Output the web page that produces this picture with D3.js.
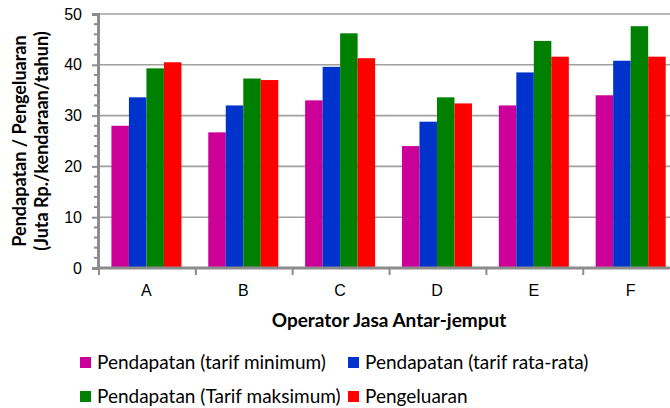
<!DOCTYPE html>
<html>
<head>
<meta charset="utf-8">
<script src="https://cdn.jsdelivr.net/npm/d3@7"></script>
<style>
    body { margin: 0; background: #fff; }
    svg { display: block; font-family: Lato, "Noto Sans", sans-serif; }
</style>
</head>
<body>
<div id="chart"></div>
<script>
// data
var operators = ["A", "B", "C", "D", "E", "F"];
var seriesNames = ["Pendapatan (tarif minimum)", "Pendapatan (tarif rata-rata)",
    "Pendapatan (Tarif maksimum)", "Pengeluaran"];
var tarifMinimum = [28.0, 26.7, 33.0, 24.0, 32.0, 34.0];
var tarifRataRata = [33.6, 32.0, 39.6, 28.8, 38.5, 40.8];
var tarifMaksimum = [39.3, 37.3, 46.2, 33.6, 44.7, 47.6];
var pengeluaran = [40.5, 37.0, 41.3, 32.4, 41.6, 41.6];
var yTicks = [0, 10, 20, 30, 40, 50];
var colors = ["#cc0099", "#0033cc", "#008000", "#ff0000"];

var svgWidth = 670;
var svgHeight = 408;

var margin = { top: 14, left: 98, bottom: 140 };
var plotBottom = svgHeight - margin.bottom;
var step = 96.85;

var svg = d3.select("#chart")
    .append("svg")
    .attr("width", svgWidth)
    .attr("height", svgHeight);

var allSeries = [tarifMinimum, tarifRataRata, tarifMaksimum, pengeluaran];

// scales
var xScale = d3.scaleBand()
    .domain(operators)
    .range([margin.left, margin.left + step * operators.length])
    .paddingInner(0.277)
    .paddingOuter(0.1385);

var xInner = d3.scaleBand()
    .domain(d3.range(seriesNames.length))
    .range([0, xScale.bandwidth()]);

var yScale = d3.scaleLinear()
    .domain([0, 50])
    .range([plotBottom, margin.top]);

// gridlines
svg.append("g")
    .selectAll("line")
    .data(yTicks.slice(1))
    .enter()
    .append("line")
    .attr("x1", margin.left)
    .attr("x2", svgWidth)
    .attr("y1", d => yScale(d))
    .attr("y2", d => yScale(d))
    .attr("stroke", "#a0a0a0")
    .attr("stroke-width", 1.6);

// bars
var rows = [];
operators.forEach(function(op, i) {
    allSeries.forEach(function(s, j) {
        rows.push({ op: op, s: j, value: s[i] });
    });
});

svg.append("g")
    .selectAll("rect")
    .data(rows)
    .enter()
    .append("rect")
    .attr("x", d => xScale(d.op) + xInner(d.s))
    .attr("y", d => yScale(d.value))
    .attr("width", xInner.bandwidth())
    .attr("height", d => plotBottom - yScale(d.value))
    .attr("fill", d => colors[d.s]);

// y axis with minor ticks
var minor = d3.range(0, 51, 2).filter(v => v % 10 !== 0);
svg.append("g")
    .selectAll("line")
    .data(minor)
    .enter()
    .append("line")
    .attr("x1", margin.left - 4)
    .attr("x2", margin.left)
    .attr("y1", d => yScale(d))
    .attr("y2", d => yScale(d))
    .attr("stroke", "#8c8c8c")
    .attr("stroke-width", 2);

var leftAxis = d3.axisLeft(yScale)
    .tickValues(yTicks)
    .tickSize(6)
    .tickPadding(10);

var yAxis = svg.append("g")
    .attr("transform", `translate(${margin.left}, 0)`)
    .call(leftAxis);

yAxis.select(".domain")
    .attr("stroke", "#8c8c8c")
    .attr("stroke-width", 3);
yAxis.selectAll(".tick line")
    .attr("stroke", "#8c8c8c")
    .attr("stroke-width", 2);
yAxis.selectAll(".tick text")
    .attr("font-size", "16px")
    .attr("fill", "#000");

// x axis
var bottomAxis = d3.axisBottom(xScale)
    .tickSize(0)
    .tickPadding(17);

var xAxis = svg.append("g")
    .attr("transform", `translate(0, ${plotBottom})`)
    .call(bottomAxis);

xAxis.select(".domain").remove();
xAxis.append("line")
    .attr("x1", margin.left - 1.5)
    .attr("x2", svgWidth)
    .attr("stroke", "#8c8c8c")
    .attr("stroke-width", 3);
xAxis.selectAll(".tick text")
    .attr("font-size", "16px")
    .attr("fill", "#000");

// category boundary ticks
xAxis.append("g")
    .selectAll("line")
    .data(d3.range(operators.length + 1))
    .enter()
    .append("line")
    .attr("x1", d => margin.left + 1 + d * step)
    .attr("x2", d => margin.left + 1 + d * step)
    .attr("y1", 0)
    .attr("y2", 7)
    .attr("stroke", "#8c8c8c")
    .attr("stroke-width", 2);

// axis titles
svg.append("text")
    .attr("x", 389)
    .attr("y", 327)
    .attr("text-anchor", "middle")
    .attr("font-size", "19px")
    .attr("font-weight", "bold")
    .text("Operator Jasa Antar-jemput");

var yTitle = svg.append("g")
    .attr("transform", `translate(0, ${(margin.top + plotBottom) / 2}) rotate(-90)`)
    .attr("text-anchor", "middle")
    .attr("font-size", "18px")
    .attr("font-weight", "bold");

yTitle.append("text")
    .attr("x", 0)
    .attr("y", 26)
    .text("Pendapatan / Pengeluaran");

yTitle.append("text")
    .attr("x", 0)
    .attr("y", 48)
    .text("(Juta Rp./kendaraan/tahun)");

// legend
var legendPos = [[80, 357], [348, 357], [80, 391], [348, 391]];

var legend = svg.append("g")
    .selectAll("g")
    .data(seriesNames)
    .enter()
    .append("g")
    .attr("transform", (d, i) => `translate(${legendPos[i][0]}, ${legendPos[i][1]})`);

legend.append("rect")
    .attr("width", 11)
    .attr("height", 11)
    .attr("fill", (d, i) => colors[i]);

legend.append("text")
    .attr("x", 17)
    .attr("y", 11.5)
    .attr("font-size", "19px")
    .attr("fill", "#000")
    .text(d => d);
</script>
</body>
</html>
